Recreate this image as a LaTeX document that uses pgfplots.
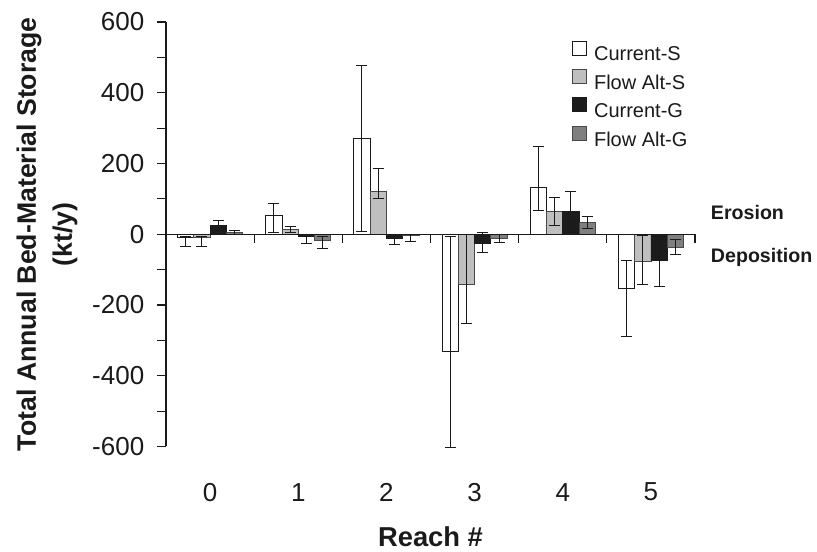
\documentclass[border=0pt]{standalone}
\usepackage{fontspec}
\setmainfont{Liberation Sans}
\usepackage{pgfplots}
\pgfplotsset{compat=1.18}
\definecolor{altS}{HTML}{BFBFBF}
\definecolor{curG}{HTML}{1C1C1C}
\definecolor{altG}{HTML}{7F7F7F}
\definecolor{ink}{HTML}{1A1A1A}

\begin{document}
\begin{tikzpicture}
  % page = 817 x 552 px at 0.75pt per px, axis box corner at the origin
  \useasboundingbox (-124.5pt,-79.125pt) rectangle (488.25pt,334.875pt);
  \begin{axis}[
    at={(0,0)}, anchor=south west, scale only axis,
    width=396.75pt, height=318.375pt,
    clip=false,
    ybar, bar width=0.185,
    xmin=-0.5, xmax=5.5, ymin=-600, ymax=600,
    axis lines*=left,
    x axis line style={draw=none},
    y axis line style={ink, line width=0.9pt},
    xtick={0,1,2,3,4,5}, xticklabels={0,1,2,3,4,5},
    xtick style={draw=none},
    xticklabel style={anchor=center, yshift=-27.5pt},
    ytick={-600,-400,-200,0,200,400,600},
    yticklabels={-600,-400,-200,0,200,400,600},
    minor ytick={-500,-300,-100,100,300,500},
    tick align=outside,
    major tick length=6.75pt, minor tick length=6.75pt,
    ytick style={ink, line width=0.9pt},
    minor tick style={ink, line width=0.9pt},
    yticklabel style={xshift=-6pt},
    tick label style={font=\fontsize{19.5}{23}\selectfont, text=ink},
    xlabel={Reach \#},
    xlabel style={font=\bfseries\fontsize{20.5}{24}\selectfont, text=ink,
                  at={(axis description cs:0.5,-0.212)}, anchor=center},
    ylabel={Total Annual Bed-Material Storage\\(kt/y)},
    ylabel style={font=\bfseries\fontsize{20}{27}\selectfont, text=ink,
                  align=center, at={(axis description cs:-0.225,0.5)}, anchor=center},
    legend cell align=left,
    legend style={draw=none, fill=none, inner sep=0pt, row sep=0pt, column sep=5.25pt,
                  at={(rel axis cs:0.7675,0.957)}, anchor=north west,
                  nodes={inner sep=0pt, minimum height=21pt,
                         font=\fontsize{15}{18}\selectfont, text=ink}},
    legend image code/.code={\draw[#1, line width=0.6pt] (0pt,0pt) rectangle (10.5pt,10.5pt);},
    error bars/error bar style={ink, line width=0.7pt},
    error bars/error mark options={ink, line width=0.7pt, mark size=4.1pt, rotate=90},
  ]
    \addplot[fill=white, draw=ink, line width=0.6pt, bar shift=-0.2775,
             error bars/.cd, y dir=both, y explicit]
      coordinates {(0,-10) += (0,5) -= (0,25)
                   (1,52) += (0,35) -= (0,48)
                   (2,271) += (0,206) -= (0,264)
                   (3,-330) += (0,324) -= (0,274)
                   (4,132) += (0,116) -= (0,65)
                   (5,-152) += (0,77) -= (0,138)};
    \addplot[fill=altS, draw=ink!80, line width=0.6pt, bar shift=-0.0925,
             error bars/.cd, y dir=both, y explicit]
      coordinates {(0,-10) += (0,5) -= (0,25)
                   (1,13) += (0,9) -= (0,9)
                   (2,120) += (0,67) -= (0,20)
                   (3,-142) += (0,142) -= (0,110)
                   (4,64) += (0,40) -= (0,40)
                   (5,-78) += (0,74) -= (0,64)};
    \addplot[fill=curG, draw=ink, line width=0.6pt, bar shift=0.0925,
             error bars/.cd, y dir=both, y explicit]
      coordinates {(0,26) += (0,13) -= (0,13)
                   (1,-5) += (0,5) -= (0,20)
                   (2,-13) += (0,8) -= (0,16)
                   (3,-26) += (0,30) -= (0,26)
                   (4,64) += (0,58) -= (0,58)
                   (5,-75) += (0,70) -= (0,74)};
    \addplot[fill=altG, draw=ink!80, line width=0.6pt, bar shift=0.2775,
             error bars/.cd, y dir=both, y explicit]
      coordinates {(0,6) += (0,4) -= (0,8)
                   (1,-17) += (0,10) -= (0,23)
                   (2,-4) += (0,4) -= (0,15)
                   (3,-12) += (0,10) -= (0,11)
                   (4,33) += (0,18) -= (0,18)
                   (5,-36) += (0,21) -= (0,21)};
    \legend{Current-S, Flow Alt-S, Current-G, Flow Alt-G}
    % zero line with separators between reaches
    \draw[ink, line width=0.9pt] (axis cs:-0.5,0) -- (axis cs:5.5,0);
    \draw[ink, line width=0.9pt] (axis cs:0.5,0) -- ([yshift=-6.75pt]axis cs:0.5,0);
    \draw[ink, line width=0.9pt] (axis cs:1.5,0) -- ([yshift=-6.75pt]axis cs:1.5,0);
    \draw[ink, line width=0.9pt] (axis cs:2.5,0) -- ([yshift=-6.75pt]axis cs:2.5,0);
    \draw[ink, line width=0.9pt] (axis cs:3.5,0) -- ([yshift=-6.75pt]axis cs:3.5,0);
    \draw[ink, line width=0.9pt] (axis cs:4.5,0) -- ([yshift=-6.75pt]axis cs:4.5,0);
    \draw[ink, line width=0.9pt] (axis cs:5.5,0) -- ([yshift=-6.75pt]axis cs:5.5,0);
    \node[anchor=base west, inner sep=0pt, font=\bfseries\fontsize{14.7}{17}\selectfont, text=ink]
      at ([xshift=11.8pt, yshift=11pt]axis cs:5.5,0) {Erosion};
    \node[anchor=base west, inner sep=0pt, font=\bfseries\fontsize{14.7}{17}\selectfont, text=ink]
      at ([xshift=11.8pt, yshift=-21pt]axis cs:5.5,0) {Deposition};
  \end{axis}
\end{tikzpicture}
\end{document}
